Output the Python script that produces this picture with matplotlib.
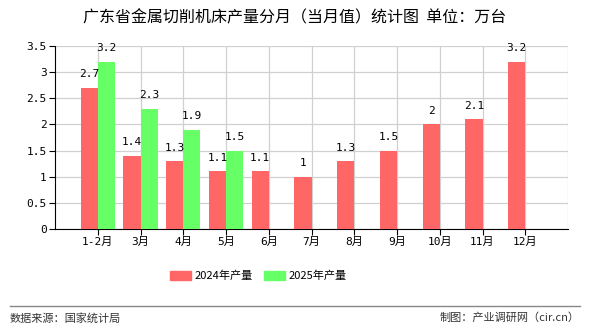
import numpy as np
import matplotlib
matplotlib.use('Agg')
import matplotlib.pyplot as plt
from matplotlib.lines import Line2D

plt.rcParams['font.family'] = ['Noto Sans CJK SC', 'DejaVu Sans']
mono = ['DejaVu Sans Mono', 'Noto Sans CJK SC']

# data
months = ['1-2月', '3月', '4月', '5月', '6月', '7月', '8月', '9月', '10月', '11月', '12月']
prod_2024 = [2.7, 1.4, 1.3, 1.1, 1.1, 1.0, 1.3, 1.5, 2.0, 2.1, 3.2]
prod_2025 = [3.2, 2.3, 1.9, 1.5]
yticks = [0, 0.5, 1, 1.5, 2, 2.5, 3, 3.5]
ytick_labels = ['0', '0.5', '1', '1.5', '2', '2.5', '3', '3.5']

red = '#ff6666'
green = '#66ff66'

fig = plt.figure(figsize=(5.9, 3.3), dpi=100)
ax = fig.add_axes([55/590, 1-229/330, 513/590, 183/330])

x = np.arange(len(months))
w = 0.4
b1 = ax.bar(x - w/2, prod_2024, w, color=red, zorder=3)
x2 = np.arange(len(prod_2025))
b2 = ax.bar(x2 + w/2, prod_2025, w, color=green, zorder=3)

def fmt(v):
    return ('%g' % v)

for rect, v in zip(b1, prod_2024):
    ax.annotate(fmt(v), (rect.get_x() + rect.get_width()/2, v), xytext=(0, 6),
                textcoords='offset points', ha='center', va='bottom', fontsize=8, family=mono)
for rect, v in zip(b2, prod_2025):
    ax.annotate(fmt(v), (rect.get_x() + rect.get_width()/2, v), xytext=(0, 6),
                textcoords='offset points', ha='center', va='bottom', fontsize=8, family=mono)

ax.set_xlim(-1, len(months))
ax.set_ylim(0, 3.5)
ax.set_xticks(x)
ax.set_xticklabels(months, fontsize=8, family=mono)
ax.set_yticks(yticks)
ax.set_yticklabels(ytick_labels, fontsize=8, family=mono)
ax.grid(True, color='#d0d0d0', linewidth=0.9, zorder=0)
ax.tick_params(axis='both', length=4, width=0.8, color='black', pad=2)

for s in ['top', 'right']:
    ax.spines[s].set_visible(False)
ax.spines['left'].set_color('black')
ax.spines['bottom'].set_color('black')
ax.axvline(len(months), color='#d0d0d0', linewidth=0.9, zorder=0)

fig.text(0.5, 1-18/330, '广东省金属切削机床产量分月（当月值）统计图  单位：万台',
         ha='center', va='center', fontsize=11.5)

handles = [plt.Rectangle((0, 0), 1, 1, color=red), plt.Rectangle((0, 0), 1, 1, color=green)]
fig.legend(handles, ['2024年产量', '2025年产量'], loc='center', bbox_to_anchor=(258/590, 1-276/330),
           ncol=2, frameon=False, fontsize=8, handlelength=1.9, handleheight=0.9,
           columnspacing=1.0, handletextpad=0.3)

fig.add_artist(Line2D([10/590, 580/590], [1-306/330, 1-306/330], color='#888888', linewidth=1))
fig.text(10/590, 1-318/330, '数据来源：国家统计局', ha='left', va='center', fontsize=8, color='#333333')
fig.text(580/590, 1-318/330, '制图：产业调研网（cir.cn）', ha='right', va='center', fontsize=8, color='#333333')

fig.savefig('out.png', dpi=100)
